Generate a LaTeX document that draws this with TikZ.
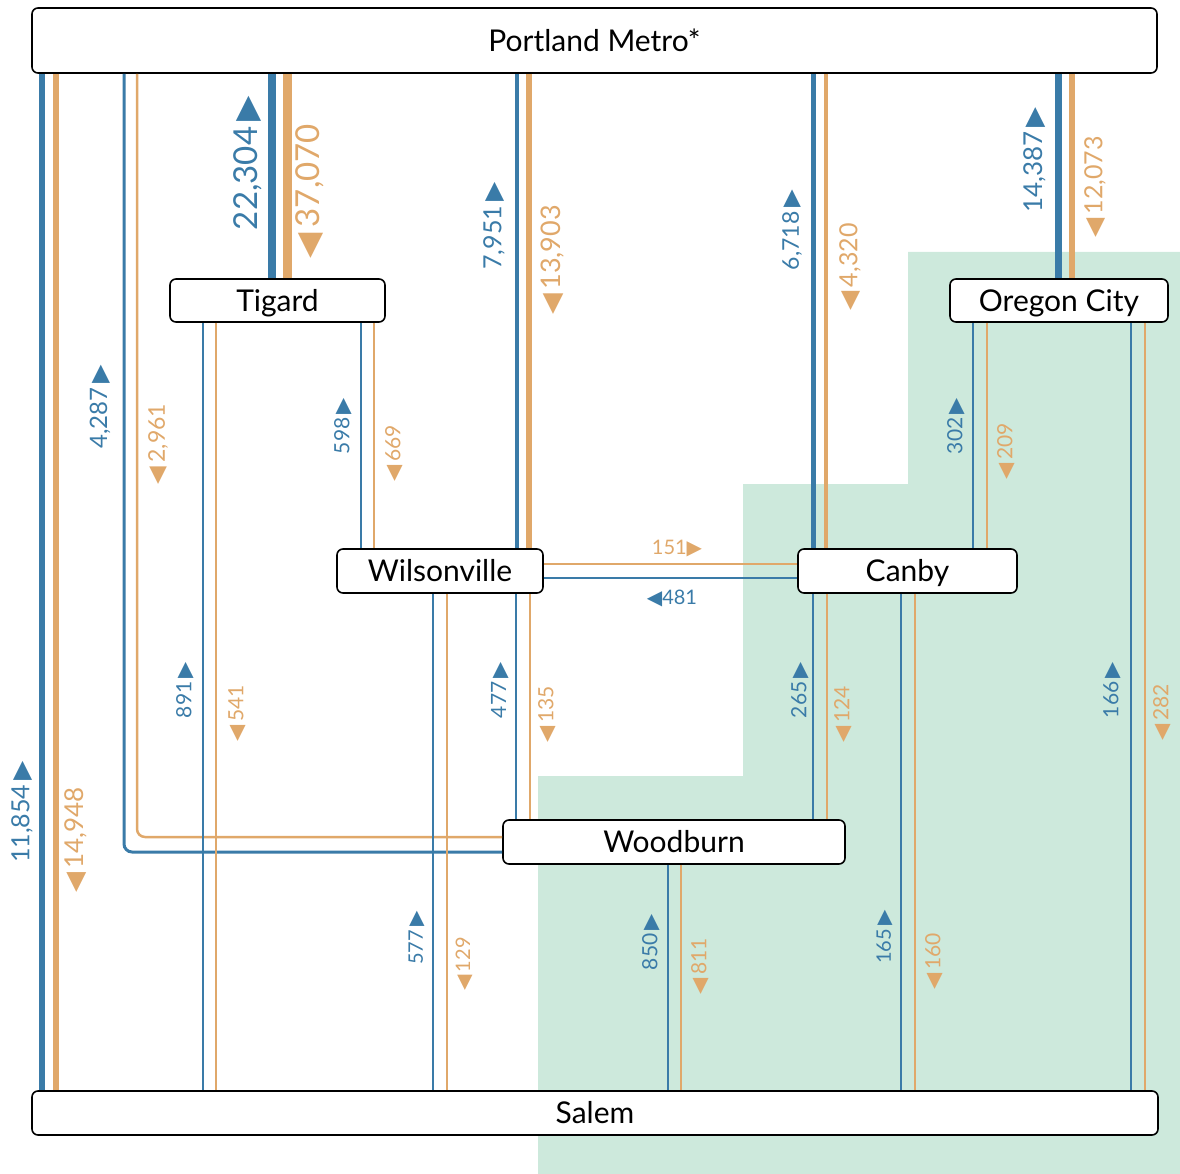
\documentclass[tikz,border=0pt]{standalone}
\usepackage{fontspec}
\setmainfont{Lato}
\newfontfamily\symfont{DejaVu Sans}

\definecolor{flowblue}{HTML}{3A7BA8}
\definecolor{flowtan}{HTML}{E0A86A}
\definecolor{mint}{HTML}{CDE9DC}

\newcommand{\upmark}{{\symfont\symbol{"25B6}}}
\newcommand{\downmark}{{\symfont\symbol{"25C0}}}

\tikzset{
  city/.style={draw=black, line width=1.6pt, rounded corners=6pt, fill=white,
    inner sep=0pt, text height=21.5pt, text depth=0pt,
    font=\fontsize{30pt}{32pt}\selectfont},
  upflow/.style={text=flowblue, rotate=90, inner sep=0pt},
  downflow/.style={text=flowtan, rotate=90, inner sep=0pt}
}

\begin{document}
\begin{tikzpicture}[x=1pt, y=-1pt]
    \useasboundingbox (0,0) rectangle (1180,1174);

    % Shaded area
    \fill[mint] (908,252) -- (1180,252) -- (1180,1174) -- (538,1174) -- (538,776)
        -- (743,776) -- (743,484) -- (908,484) -- cycle;

    % Places
    \node[city, minimum width=1125pt, minimum height=65pt] (pm) at (594.5,40.5) {Portland Metro*};
    \node[city, minimum width=215pt, minimum height=43pt] (tg) at (277.5,300.5) {Tigard};
    \node[city, minimum width=218pt, minimum height=43pt] (oc) at (1059,300.5) {Oregon City};
    \node[city, minimum width=206pt, minimum height=44pt] (wi) at (440,571) {Wilsonville};
    \node[city, minimum width=219pt, minimum height=44pt] (ca) at (907.5,571) {Canby};
    \node[city, minimum width=342pt, minimum height=44pt] (wb) at (674,842) {Woodburn};
    \node[city, minimum width=1126pt, minimum height=44pt] (sa) at (595,1113) {Salem};

    % Portland Metro to Woodburn
    \draw[flowblue, line width=3pt, rounded corners=8pt] (124,0 |- pm.south) |- (wb.west |- 0,852);
    \draw[flowtan, line width=2.5pt, rounded corners=8pt] (137,0 |- pm.south) |- (wb.west |- 0,837);

    % Wilsonville to Canby
    \draw[flowtan, line width=2pt] (wi.east |- 0,564) -- (ca.west |- 0,564);
    \draw[flowblue, line width=2pt] (wi.east |- 0,578) -- (ca.west |- 0,578);

    % Vertical flows
    \foreach \x/\w/\c/\a/\b in {42/6/flowblue/pm/sa, 56/6/flowtan/pm/sa,
        272/8/flowblue/pm/tg, 287/9/flowtan/pm/tg,
        517/4/flowblue/pm/wi, 529/6/flowtan/pm/wi,
        813/5/flowblue/pm/ca, 826/4/flowtan/pm/ca,
        1058/7/flowblue/pm/oc, 1072/6/flowtan/pm/oc,
        203/2/flowblue/tg/sa, 216/2/flowtan/tg/sa,
        361/2/flowblue/tg/wi, 374/2/flowtan/tg/wi,
        433/2/flowblue/wi/sa, 447/2/flowtan/wi/sa,
        516/2/flowblue/wi/wb, 530/2/flowtan/wi/wb,
        813/2/flowblue/ca/wb, 827/2/flowtan/ca/wb,
        901/2.5/flowblue/ca/sa, 915/2/flowtan/ca/sa,
        973/2/flowblue/oc/ca, 987/2/flowtan/oc/ca,
        1131/2/flowblue/oc/sa, 1145/2/flowtan/oc/sa,
        668/2/flowblue/wb/sa, 681/2.5/flowtan/wb/sa} {
        \draw[\c, line width=\w pt] (\x,0 |- \a.south) -- (\x,0 |- \b.north);
    }

    % Northbound counts
    \foreach \x/\y/\t/\s in {22/812/{11,854}/25, 100/407/{4,287}/24,
        248/163/{22,304}/33, 494/226/{7,951}/25, 792/230/{6,718}/23,
        1035/160/{14,387}/26, 343/426/{598}/21, 185/690/{891}/21,
        500/690/{477}/21, 800/690/{265}/21, 1112/690/{166}/21,
        956/426/{302}/21, 417/938/{577}/20, 651/942/{850}/21,
        885/937/{165}/20} {
        \node[upflow, font=\fontsize{\s pt}{\s pt}\selectfont] (n\x-\y) at (\x,\y) {\t\,\upmark};
    }

    % Southbound counts
    \foreach \x/\y/\t/\s in {76/840/{14,948}/26, 158/444/{2,961}/23,
        310/191/{37,070}/33, 553/260/{13,903}/27, 850/267/{4,320}/25,
        1095/187/{12,073}/25, 394/453/{669}/21, 237/713/{541}/21,
        547/714/{135}/21, 843/714/{124}/21, 1162/712/{282}/21,
        1006/451/{209}/21, 464/964/{129}/20, 700/966/{811}/21,
        934/961/{160}/21} {
        \node[downflow, font=\fontsize{\s pt}{\s pt}\selectfont] (s\x-\y) at (\x,\y) {\downmark\,\t};
    }

    % Cross flows
    \node[text=flowtan, inner sep=0pt, font=\fontsize{20pt}{20pt}\selectfont] (east) at (677,549) {151\upmark};
    \node[text=flowblue, inner sep=0pt, font=\fontsize{20pt}{20pt}\selectfont] (west) at (672,598) {\downmark481};
\end{tikzpicture}
\end{document}
